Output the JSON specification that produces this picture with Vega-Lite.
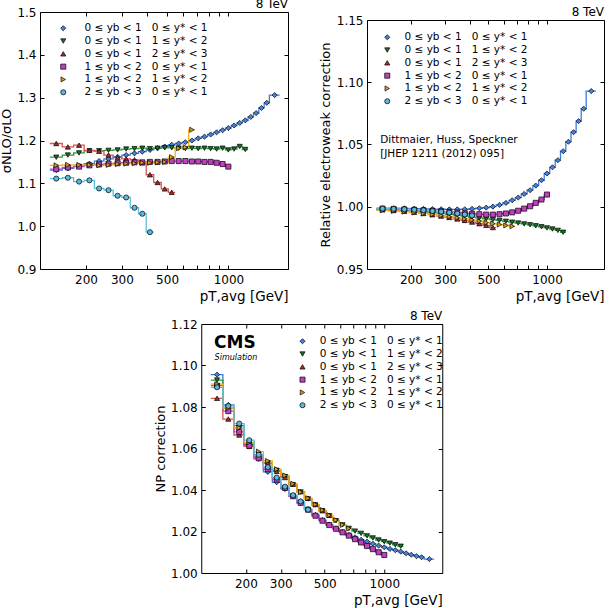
{
"$schema":"https://vega.github.io/schema/vega-lite/v6.json",
"padding":{"left":0,"top":-3,"right":4,"bottom":0},
"config":{
 "font":"DejaVu Sans",
 "view":{"stroke":"black","strokeWidth":1},
 "axis":{"domain":false,"grid":false,"ticks":true,"tickColor":"black","tickSize":-4,"tickWidth":1,"labelPadding":8,"labelFont":"DejaVu Sans","labelFontSize":12,"labelColor":"black","labelFlush":false,"labelOverlap":false,"titleFont":"DejaVu Sans","titleFontSize":13,"titleFontWeight":"normal","titleColor":"black"},
 "axisBottom":{"labelPadding":9},
 "axisTop":{"minExtent":0,"maxExtent":0,"labelPadding":0},
 "axisRight":{"minExtent":0,"maxExtent":0,"labelPadding":0},
 "text":{"font":"DejaVu Sans","color":"black"},
 "legend":{"labelFont":"DejaVu Sans","labelFontSize":10.5,"labelColor":"black","symbolStrokeColor":"black","symbolStrokeWidth":0.7,"rowPadding":1.8,"symbolSize":26,"padding":0}
},
"datasets":{
"bins":[{"b":1,"lo":133,"hi":153,"x":143},{"b":2,"lo":153,"hi":174,"x":163},{"b":3,"lo":174,"hi":196,"x":185},{"b":4,"lo":196,"hi":220,"x":208},{"b":5,"lo":220,"hi":245,"x":232},{"b":6,"lo":245,"hi":272,"x":258},{"b":7,"lo":272,"hi":300,"x":286},{"b":8,"lo":300,"hi":330,"x":315},{"b":9,"lo":330,"hi":362,"x":346},{"b":10,"lo":362,"hi":395,"x":378},{"b":11,"lo":395,"hi":430,"x":412},{"b":12,"lo":430,"hi":468,"x":449},{"b":13,"lo":468,"hi":507,"x":487},{"b":14,"lo":507,"hi":548,"x":527},{"b":15,"lo":548,"hi":592,"x":570},{"b":16,"lo":592,"hi":638,"x":615},{"b":17,"lo":638,"hi":686,"x":662},{"b":18,"lo":686,"hi":737,"x":711},{"b":19,"lo":737,"hi":790,"x":763},{"b":20,"lo":790,"hi":846,"x":818},{"b":21,"lo":846,"hi":905,"x":875},{"b":22,"lo":905,"hi":967,"x":936},{"b":23,"lo":967,"hi":1032,"x":999},{"b":24,"lo":1032,"hi":1101,"x":1066},{"b":25,"lo":1101,"hi":1172,"x":1136},{"b":26,"lo":1172,"hi":1248,"x":1210},{"b":27,"lo":1248,"hi":1327,"x":1287},{"b":28,"lo":1327,"hi":1410,"x":1368},{"b":29,"lo":1410,"hi":1497,"x":1453},{"b":30,"lo":1497,"hi":1588,"x":1542},{"b":31,"lo":1588,"hi":1784,"x":1686}],
"nlo":[
{"s":"a","b":1,"y":1.131},{"s":"a","b":2,"y":1.135},{"s":"a","b":3,"y":1.140},{"s":"a","b":4,"y":1.146},{"s":"a","b":5,"y":1.152},{"s":"a","b":6,"y":1.157},{"s":"a","b":7,"y":1.162},{"s":"a","b":8,"y":1.166},{"s":"a","b":9,"y":1.170},{"s":"a","b":10,"y":1.174},{"s":"a","b":11,"y":1.178},{"s":"a","b":12,"y":1.182},{"s":"a","b":13,"y":1.186},{"s":"a","b":14,"y":1.190},{"s":"a","b":15,"y":1.193},{"s":"a","b":16,"y":1.196},{"s":"a","b":17,"y":1.200},{"s":"a","b":18,"y":1.205},{"s":"a","b":19,"y":1.209},{"s":"a","b":20,"y":1.214},{"s":"a","b":21,"y":1.219},{"s":"a","b":22,"y":1.224},{"s":"a","b":23,"y":1.229},{"s":"a","b":24,"y":1.235},{"s":"a","b":25,"y":1.241},{"s":"a","b":26,"y":1.247},{"s":"a","b":27,"y":1.255},{"s":"a","b":28,"y":1.264},{"s":"a","b":29,"y":1.276},{"s":"a","b":30,"y":1.288},{"s":"a","b":31,"y":1.306},
{"s":"b","b":1,"y":1.161},{"s":"b","b":2,"y":1.166},{"s":"b","b":3,"y":1.171},{"s":"b","b":4,"y":1.176},{"s":"b","b":5,"y":1.176},{"s":"b","b":6,"y":1.177},{"s":"b","b":7,"y":1.178},{"s":"b","b":8,"y":1.180},{"s":"b","b":9,"y":1.181},{"s":"b","b":10,"y":1.182},{"s":"b","b":11,"y":1.181},{"s":"b","b":12,"y":1.182},{"s":"b","b":13,"y":1.183},{"s":"b","b":14,"y":1.183},{"s":"b","b":15,"y":1.182},{"s":"b","b":16,"y":1.181},{"s":"b","b":17,"y":1.182},{"s":"b","b":18,"y":1.181},{"s":"b","b":19,"y":1.182},{"s":"b","b":20,"y":1.181},{"s":"b","b":21,"y":1.180},{"s":"b","b":22,"y":1.182},{"s":"b","b":23,"y":1.178},{"s":"b","b":24,"y":1.180},{"s":"b","b":25,"y":1.186},{"s":"b","b":26,"y":1.179},
{"s":"c","b":1,"y":1.193},{"s":"c","b":2,"y":1.185},{"s":"c","b":3,"y":1.189},{"s":"c","b":4,"y":1.177},{"s":"c","b":5,"y":1.175},{"s":"c","b":6,"y":1.166},{"s":"c","b":7,"y":1.160},{"s":"c","b":8,"y":1.157},{"s":"c","b":9,"y":1.155},{"s":"c","b":10,"y":1.148},{"s":"c","b":11,"y":1.120},{"s":"c","b":12,"y":1.102},{"s":"c","b":13,"y":1.087},{"s":"c","b":14,"y":1.079},
{"s":"d","b":1,"y":1.133},{"s":"d","b":2,"y":1.137},{"s":"d","b":3,"y":1.139},{"s":"d","b":4,"y":1.142},{"s":"d","b":5,"y":1.144},{"s":"d","b":6,"y":1.146},{"s":"d","b":7,"y":1.147},{"s":"d","b":8,"y":1.148},{"s":"d","b":9,"y":1.149},{"s":"d","b":10,"y":1.149},{"s":"d","b":11,"y":1.150},{"s":"d","b":12,"y":1.150},{"s":"d","b":13,"y":1.151},{"s":"d","b":14,"y":1.152},{"s":"d","b":15,"y":1.152},{"s":"d","b":16,"y":1.152},{"s":"d","b":17,"y":1.151},{"s":"d","b":18,"y":1.151},{"s":"d","b":19,"y":1.150},{"s":"d","b":20,"y":1.150},{"s":"d","b":21,"y":1.148},{"s":"d","b":22,"y":1.145},{"s":"d","b":23,"y":1.139},
{"s":"e","b":1,"y":1.142},{"s":"e","b":2,"y":1.143},{"s":"e","b":3,"y":1.143},{"s":"e","b":4,"y":1.143},{"s":"e","b":5,"y":1.142},{"s":"e","b":6,"y":1.143},{"s":"e","b":7,"y":1.145},{"s":"e","b":8,"y":1.146},{"s":"e","b":9,"y":1.147},{"s":"e","b":10,"y":1.148},{"s":"e","b":11,"y":1.148},{"s":"e","b":12,"y":1.149},{"s":"e","b":13,"y":1.150},{"s":"e","b":14,"y":1.161},{"s":"e","b":15,"y":1.182},{"s":"e","b":16,"y":1.184},{"s":"e","b":17,"y":1.225},
{"s":"f","b":1,"y":1.111},{"s":"f","b":2,"y":1.113},{"s":"f","b":3,"y":1.104},{"s":"f","b":4,"y":1.107},{"s":"f","b":5,"y":1.088},{"s":"f","b":6,"y":1.084},{"s":"f","b":7,"y":1.071},{"s":"f","b":8,"y":1.067},{"s":"f","b":9,"y":1.043},{"s":"f","b":10,"y":1.029},{"s":"f","b":11,"y":0.986}
],
"ew":[
{"s":"a","b":1,"y":0.9988},{"s":"a","b":2,"y":0.9988},{"s":"a","b":3,"y":0.9987},{"s":"a","b":4,"y":0.9985},{"s":"a","b":5,"y":0.9983},{"s":"a","b":6,"y":0.9981},{"s":"a","b":7,"y":0.998},{"s":"a","b":8,"y":0.9979},{"s":"a","b":9,"y":0.9979},{"s":"a","b":10,"y":0.998},{"s":"a","b":11,"y":0.9983},{"s":"a","b":12,"y":0.9988},{"s":"a","b":13,"y":0.9993},{"s":"a","b":14,"y":1.0001},{"s":"a","b":15,"y":1.0015},{"s":"a","b":16,"y":1.0031},{"s":"a","b":17,"y":1.0052},{"s":"a","b":18,"y":1.0074},{"s":"a","b":19,"y":1.0103},{"s":"a","b":20,"y":1.0133},{"s":"a","b":21,"y":1.017},{"s":"a","b":22,"y":1.0213},{"s":"a","b":23,"y":1.0267},{"s":"a","b":24,"y":1.0317},{"s":"a","b":25,"y":1.0374},{"s":"a","b":26,"y":1.0446},{"s":"a","b":27,"y":1.0522},{"s":"a","b":28,"y":1.0599},{"s":"a","b":29,"y":1.0688},{"s":"a","b":30,"y":1.0787},{"s":"a","b":31,"y":1.0929},
{"s":"b","b":1,"y":0.998},{"s":"b","b":2,"y":0.9977},{"s":"b","b":3,"y":0.9973},{"s":"b","b":4,"y":0.9968},{"s":"b","b":5,"y":0.9962},{"s":"b","b":6,"y":0.9955},{"s":"b","b":7,"y":0.9948},{"s":"b","b":8,"y":0.994},{"s":"b","b":9,"y":0.9932},{"s":"b","b":10,"y":0.9925},{"s":"b","b":11,"y":0.9917},{"s":"b","b":12,"y":0.991},{"s":"b","b":13,"y":0.9903},{"s":"b","b":14,"y":0.9896},{"s":"b","b":15,"y":0.989},{"s":"b","b":16,"y":0.9883},{"s":"b","b":17,"y":0.9876},{"s":"b","b":18,"y":0.9869},{"s":"b","b":19,"y":0.9862},{"s":"b","b":20,"y":0.9855},{"s":"b","b":21,"y":0.9847},{"s":"b","b":22,"y":0.9839},{"s":"b","b":23,"y":0.983},{"s":"b","b":24,"y":0.9821},{"s":"b","b":25,"y":0.981},{"s":"b","b":26,"y":0.9795},
{"s":"c","b":1,"y":0.9975},{"s":"c","b":2,"y":0.997},{"s":"c","b":3,"y":0.9963},{"s":"c","b":4,"y":0.9955},{"s":"c","b":5,"y":0.9946},{"s":"c","b":6,"y":0.9936},{"s":"c","b":7,"y":0.9925},{"s":"c","b":8,"y":0.9914},{"s":"c","b":9,"y":0.9902},{"s":"c","b":10,"y":0.989},{"s":"c","b":11,"y":0.9877},{"s":"c","b":12,"y":0.9864},{"s":"c","b":13,"y":0.9851},{"s":"c","b":14,"y":0.9833},
{"s":"d","b":1,"y":0.9985},{"s":"d","b":2,"y":0.9982},{"s":"d","b":3,"y":0.9978},{"s":"d","b":4,"y":0.9975},{"s":"d","b":5,"y":0.9971},{"s":"d","b":6,"y":0.9967},{"s":"d","b":7,"y":0.9963},{"s":"d","b":8,"y":0.9958},{"s":"d","b":9,"y":0.9953},{"s":"d","b":10,"y":0.9948},{"s":"d","b":11,"y":0.9944},{"s":"d","b":12,"y":0.994},{"s":"d","b":13,"y":0.9937},{"s":"d","b":14,"y":0.9937},{"s":"d","b":15,"y":0.994},{"s":"d","b":16,"y":0.9946},{"s":"d","b":17,"y":0.9955},{"s":"d","b":18,"y":0.9968},{"s":"d","b":19,"y":0.9985},{"s":"d","b":20,"y":1.0004},{"s":"d","b":21,"y":1.0031},{"s":"d","b":22,"y":1.0058},{"s":"d","b":23,"y":1.0098},
{"s":"e","b":1,"y":0.9972},{"s":"e","b":2,"y":0.9967},{"s":"e","b":3,"y":0.9961},{"s":"e","b":4,"y":0.9954},{"s":"e","b":5,"y":0.9946},{"s":"e","b":6,"y":0.9938},{"s":"e","b":7,"y":0.9929},{"s":"e","b":8,"y":0.992},{"s":"e","b":9,"y":0.9911},{"s":"e","b":10,"y":0.9902},{"s":"e","b":11,"y":0.9893},{"s":"e","b":12,"y":0.9884},{"s":"e","b":13,"y":0.9872},{"s":"e","b":14,"y":0.9864},{"s":"e","b":15,"y":0.9857},{"s":"e","b":16,"y":0.985},{"s":"e","b":17,"y":0.9843},
{"s":"f","b":1,"y":0.9985},{"s":"f","b":2,"y":0.9983},{"s":"f","b":3,"y":0.998},{"s":"f","b":4,"y":0.9976},{"s":"f","b":5,"y":0.9972},{"s":"f","b":6,"y":0.9966},{"s":"f","b":7,"y":0.996},{"s":"f","b":8,"y":0.9953},{"s":"f","b":9,"y":0.9946},{"s":"f","b":10,"y":0.9938},{"s":"f","b":11,"y":0.993}
],
"np":[
{"s":"a","b":1,"y":1.0956},{"s":"a","b":2,"y":1.081},{"s":"a","b":3,"y":1.071},{"s":"a","b":4,"y":1.062},{"s":"a","b":5,"y":1.055},{"s":"a","b":6,"y":1.0487},{"s":"a","b":7,"y":1.0437},{"s":"a","b":8,"y":1.0405},{"s":"a","b":9,"y":1.037},{"s":"a","b":10,"y":1.0338},{"s":"a","b":11,"y":1.0308},{"s":"a","b":12,"y":1.028},{"s":"a","b":13,"y":1.0255},{"s":"a","b":14,"y":1.0234},{"s":"a","b":15,"y":1.0215},{"s":"a","b":16,"y":1.0199},{"s":"a","b":17,"y":1.0184},{"s":"a","b":18,"y":1.0172},{"s":"a","b":19,"y":1.016},{"s":"a","b":20,"y":1.0151},{"s":"a","b":21,"y":1.0141},{"s":"a","b":22,"y":1.0132},{"s":"a","b":23,"y":1.0124},{"s":"a","b":24,"y":1.0116},{"s":"a","b":25,"y":1.011},{"s":"a","b":26,"y":1.0103},{"s":"a","b":27,"y":1.0095},{"s":"a","b":28,"y":1.0088},{"s":"a","b":29,"y":1.0081},{"s":"a","b":30,"y":1.0076},{"s":"a","b":31,"y":1.0067},
{"s":"b","b":1,"y":1.093},{"s":"b","b":2,"y":1.0795},{"s":"b","b":3,"y":1.070},{"s":"b","b":4,"y":1.062},{"s":"b","b":5,"y":1.057},{"s":"b","b":6,"y":1.053},{"s":"b","b":7,"y":1.0495},{"s":"b","b":8,"y":1.0465},{"s":"b","b":9,"y":1.0425},{"s":"b","b":10,"y":1.039},{"s":"b","b":11,"y":1.0357},{"s":"b","b":12,"y":1.0328},{"s":"b","b":13,"y":1.030},{"s":"b","b":14,"y":1.0276},{"s":"b","b":15,"y":1.0252},{"s":"b","b":16,"y":1.0232},{"s":"b","b":17,"y":1.0215},{"s":"b","b":18,"y":1.0202},{"s":"b","b":19,"y":1.0191},{"s":"b","b":20,"y":1.0179},{"s":"b","b":21,"y":1.0169},{"s":"b","b":22,"y":1.0159},{"s":"b","b":23,"y":1.0151},{"s":"b","b":24,"y":1.0144},{"s":"b","b":25,"y":1.0136},{"s":"b","b":26,"y":1.0129},
{"s":"c","b":1,"y":1.0842},{"s":"c","b":2,"y":1.0742},{"s":"c","b":3,"y":1.0665},{"s":"c","b":4,"y":1.061},{"s":"c","b":5,"y":1.056},{"s":"c","b":6,"y":1.053},{"s":"c","b":7,"y":1.049},{"s":"c","b":8,"y":1.046},{"s":"c","b":9,"y":1.0428},{"s":"c","b":10,"y":1.0392},{"s":"c","b":11,"y":1.036},{"s":"c","b":12,"y":1.033},{"s":"c","b":13,"y":1.030},{"s":"c","b":14,"y":1.0278},
{"s":"d","b":1,"y":1.0903},{"s":"d","b":2,"y":1.078},{"s":"d","b":3,"y":1.068},{"s":"d","b":4,"y":1.0614},{"s":"d","b":5,"y":1.0553},{"s":"d","b":6,"y":1.050},{"s":"d","b":7,"y":1.045},{"s":"d","b":8,"y":1.041},{"s":"d","b":9,"y":1.037},{"s":"d","b":10,"y":1.0338},{"s":"d","b":11,"y":1.0305},{"s":"d","b":12,"y":1.0276},{"s":"d","b":13,"y":1.0252},{"s":"d","b":14,"y":1.0231},{"s":"d","b":15,"y":1.0213},{"s":"d","b":16,"y":1.0196},{"s":"d","b":17,"y":1.018},{"s":"d","b":18,"y":1.0163},{"s":"d","b":19,"y":1.0147},{"s":"d","b":20,"y":1.013},{"s":"d","b":21,"y":1.0115},{"s":"d","b":22,"y":1.010},{"s":"d","b":23,"y":1.0087},
{"s":"e","b":1,"y":1.091},{"s":"e","b":2,"y":1.0795},{"s":"e","b":3,"y":1.070},{"s":"e","b":4,"y":1.063},{"s":"e","b":5,"y":1.0585},{"s":"e","b":6,"y":1.054},{"s":"e","b":7,"y":1.050},{"s":"e","b":8,"y":1.047},{"s":"e","b":9,"y":1.043},{"s":"e","b":10,"y":1.039},{"s":"e","b":11,"y":1.036},{"s":"e","b":12,"y":1.033},{"s":"e","b":13,"y":1.0303},{"s":"e","b":14,"y":1.0278},{"s":"e","b":15,"y":1.0255},{"s":"e","b":16,"y":1.0232},{"s":"e","b":17,"y":1.0215},
{"s":"f","b":1,"y":1.0895},{"s":"f","b":2,"y":1.0805},{"s":"f","b":3,"y":1.072},{"s":"f","b":4,"y":1.064},{"s":"f","b":5,"y":1.057},{"s":"f","b":6,"y":1.051},{"s":"f","b":7,"y":1.046},{"s":"f","b":8,"y":1.0416},{"s":"f","b":9,"y":1.0375},{"s":"f","b":10,"y":1.0345},{"s":"f","b":11,"y":1.0305}
]
},
"vconcat":[
{"hconcat":[
{
 "width":248,"height":257,
 "data":{"name":"nlo"},
 "layer":[
  {
   "transform":[{"lookup":"b","from":{"data":{"name":"bins"},"key":"b","fields":["lo","hi","x"]}},{"fold":["lo","hi"],"as":["edge","xe"]}],
   "mark":{"type":"line","strokeWidth":1.3},
   "encoding":{
    "x":{"field":"xe","type":"quantitative","scale":{"type":"log","domain":[119,1960],"nice":false},"axis":{"orient":"top","labels":false,"title":null,"values":[200,300,400,500,600,700,800,900,1000]}},
    "y":{"field":"y","type":"quantitative","scale":{"domain":[0.9,1.5],"nice":false,"zero":false},"axis":{"orient":"right","labels":false,"title":null,"values":[0.9,1.0,1.1,1.2,1.3,1.4,1.5]}},
    "stroke":{"field":"s","type":"nominal","scale":{"domain":["f","e","d","c","b","a"],"range":["#5bc0de","#f2b01e","#c449c4","#d9534f","#2b9a3a","#3b7ddd"]},"legend":null},
    "order":[{"field":"xe","type":"quantitative"},{"field":"edge","type":"nominal"}]
   }
  },
  {
   "transform":[{"lookup":"b","from":{"data":{"name":"bins"},"key":"b","fields":["lo","hi","x"]}}],
   "mark":{"type":"point","filled":true,"stroke":"black","strokeWidth":0.7,"size":26,"opacity":1},
   "encoding":{
    "x":{"field":"x","type":"quantitative","scale":{"type":"log","domain":[119,1960],"nice":false},"axis":{"orient":"bottom","values":[200,300,400,500,600,700,800,900,1000],"labelExpr":"(datum.value==200||datum.value==300||datum.value==500||datum.value==1000)?''+datum.value:''","title":"pT,avg [GeV]","titleAnchor":"end","titleFontSize":13.5,"titlePadding":4.5}},
    "y":{"field":"y","type":"quantitative","scale":{"domain":[0.9,1.5],"nice":false,"zero":false},"axis":{"orient":"left","values":[0.9,1.0,1.1,1.2,1.3,1.4,1.5],"format":".1f","title":"σNLO/σLO","titlePadding":3}},
    "color":{"field":"s","type":"nominal","scale":{"domain":["a","b","c","d","e","f"],"range":["#4a80d8","#1f6e2a","#a03030","#c040c0","#d8a020","#5ab9dc"]},"legend":{"orient":"none","legendX":18,"legendY":11,"title":null,"labelOffset":16,"labelExpr":"datum.label=='a'?'0 ≤ yb < 1\u00a0\u00a0\u00a00 ≤ y* < 1':datum.label=='b'?'0 ≤ yb < 1\u00a0\u00a0\u00a01 ≤ y* < 2':datum.label=='c'?'0 ≤ yb < 1\u00a0\u00a0\u00a02 ≤ y* < 3':datum.label=='d'?'1 ≤ yb < 2\u00a0\u00a0\u00a00 ≤ y* < 1':datum.label=='e'?'1 ≤ yb < 2\u00a0\u00a0\u00a01 ≤ y* < 2':'2 ≤ yb < 3\u00a0\u00a0\u00a00 ≤ y* < 1'"}},
    "shape":{"field":"s","type":"nominal","scale":{"domain":["a","b","c","d","e","f"],"range":["diamond","triangle-down","triangle-up","square","triangle-right","circle"]},"legend":{"orient":"none","legendX":18,"legendY":11,"title":null,"labelOffset":16,"labelExpr":"datum.label=='a'?'0 ≤ yb < 1\u00a0\u00a0\u00a00 ≤ y* < 1':datum.label=='b'?'0 ≤ yb < 1\u00a0\u00a0\u00a01 ≤ y* < 2':datum.label=='c'?'0 ≤ yb < 1\u00a0\u00a0\u00a02 ≤ y* < 3':datum.label=='d'?'1 ≤ yb < 2\u00a0\u00a0\u00a00 ≤ y* < 1':datum.label=='e'?'1 ≤ yb < 2\u00a0\u00a0\u00a01 ≤ y* < 2':'2 ≤ yb < 3\u00a0\u00a0\u00a00 ≤ y* < 1'"}}
   }
  },
  {
   "data":{"values":[{"x":1960,"y":1.5,"t":"8 TeV"}]},
   "mark":{"type":"text","align":"right","baseline":"bottom","dy":-1,"fontSize":12},
   "encoding":{
    "x":{"field":"x","type":"quantitative","scale":{"type":"log","domain":[119,1960],"nice":false},"axis":null},
    "y":{"field":"y","type":"quantitative","scale":{"domain":[0.9,1.5],"nice":false,"zero":false},"axis":null},
    "text":{"field":"t"}
   }
  }
 ],
 "resolve":{"axis":{"x":"independent","y":"independent"}}
},
{"vconcat":[
{
 "width":237,"height":1,
 "view":{"stroke":null},
 "data":{"values":[]},
 "mark":{"type":"point","opacity":0},
 "encoding":{}
},
{
 "width":237,"height":249,
 "data":{"name":"ew"},
 "layer":[
  {
   "transform":[{"lookup":"b","from":{"data":{"name":"bins"},"key":"b","fields":["lo","hi","x"]}},{"fold":["lo","hi"],"as":["edge","xe"]}],
   "mark":{"type":"line","strokeWidth":1.3},
   "encoding":{
    "x":{"field":"xe","type":"quantitative","scale":{"type":"log","domain":[119,1960],"nice":false},"axis":{"orient":"top","labels":false,"title":null,"values":[200,300,400,500,600,700,800,900,1000]}},
    "y":{"field":"y","type":"quantitative","scale":{"domain":[0.95,1.15],"nice":false,"zero":false},"axis":{"orient":"right","labels":false,"title":null,"values":[0.95,1.0,1.05,1.1,1.15]}},
    "stroke":{"field":"s","type":"nominal","scale":{"domain":["f","e","d","c","b","a"],"range":["#5bc0de","#f2b01e","#c449c4","#d9534f","#2b9a3a","#3b7ddd"]},"legend":null},
    "order":[{"field":"xe","type":"quantitative"},{"field":"edge","type":"nominal"}]
   }
  },
  {
   "transform":[{"lookup":"b","from":{"data":{"name":"bins"},"key":"b","fields":["lo","hi","x"]}}],
   "mark":{"type":"point","filled":true,"stroke":"black","strokeWidth":0.7,"size":26,"opacity":1},
   "encoding":{
    "x":{"field":"x","type":"quantitative","scale":{"type":"log","domain":[119,1960],"nice":false},"axis":{"orient":"bottom","values":[200,300,400,500,600,700,800,900,1000],"labelExpr":"(datum.value==200||datum.value==300||datum.value==500||datum.value==1000)?''+datum.value:''","title":"pT,avg [GeV]","titleAnchor":"end","titleFontSize":13.5,"titlePadding":4.5}},
    "y":{"field":"y","type":"quantitative","scale":{"domain":[0.95,1.15],"nice":false,"zero":false},"axis":{"orient":"left","values":[0.95,1.0,1.05,1.1,1.15],"format":".2f","title":"Relative electroweak correction","titlePadding":4}},
    "color":{"field":"s","type":"nominal","scale":{"domain":["a","b","c","d","e","f"],"range":["#4a80d8","#1f6e2a","#a03030","#c040c0","#d8a020","#5ab9dc"]},"legend":{"orient":"none","legendX":15,"legendY":20,"title":null,"labelOffset":12,"labelExpr":"datum.label=='a'?'0 ≤ yb < 1\u00a0\u00a0\u00a00 ≤ y* < 1':datum.label=='b'?'0 ≤ yb < 1\u00a0\u00a0\u00a01 ≤ y* < 2':datum.label=='c'?'0 ≤ yb < 1\u00a0\u00a0\u00a02 ≤ y* < 3':datum.label=='d'?'1 ≤ yb < 2\u00a0\u00a0\u00a00 ≤ y* < 1':datum.label=='e'?'1 ≤ yb < 2\u00a0\u00a0\u00a01 ≤ y* < 2':'2 ≤ yb < 3\u00a0\u00a0\u00a00 ≤ y* < 1'"}},
    "shape":{"field":"s","type":"nominal","scale":{"domain":["a","b","c","d","e","f"],"range":["diamond","triangle-down","triangle-up","square","triangle-right","circle"]},"legend":{"orient":"none","legendX":15,"legendY":20,"title":null,"labelOffset":12,"labelExpr":"datum.label=='a'?'0 ≤ yb < 1\u00a0\u00a0\u00a00 ≤ y* < 1':datum.label=='b'?'0 ≤ yb < 1\u00a0\u00a0\u00a01 ≤ y* < 2':datum.label=='c'?'0 ≤ yb < 1\u00a0\u00a0\u00a02 ≤ y* < 3':datum.label=='d'?'1 ≤ yb < 2\u00a0\u00a0\u00a00 ≤ y* < 1':datum.label=='e'?'1 ≤ yb < 2\u00a0\u00a0\u00a01 ≤ y* < 2':'2 ≤ yb < 3\u00a0\u00a0\u00a00 ≤ y* < 1'"}}
   }
  },
  {
   "data":{"values":[{"x":1960,"y":1.15,"t":"8 TeV"}]},
   "mark":{"type":"text","align":"right","baseline":"bottom","dy":-1,"fontSize":12},
   "encoding":{
    "x":{"field":"x","type":"quantitative","scale":{"type":"log","domain":[119,1960],"nice":false},"axis":null},
    "y":{"field":"y","type":"quantitative","scale":{"domain":[0.95,1.15],"nice":false,"zero":false},"axis":null},
    "text":{"field":"t"}
   }
  },
  {
   "data":{"values":[{"x":139,"y":1.054,"t":"Dittmaier, Huss, Speckner"},{"x":139,"y":1.042,"t":"[JHEP 1211 (2012) 095]"}]},
   "mark":{"type":"text","align":"left","baseline":"middle","fontSize":10.5},
   "encoding":{
    "x":{"field":"x","type":"quantitative","scale":{"type":"log","domain":[119,1960],"nice":false},"axis":null},
    "y":{"field":"y","type":"quantitative","scale":{"domain":[0.95,1.15],"nice":false,"zero":false},"axis":null},
    "text":{"field":"t"}
   }
  }
 ],
 "resolve":{"axis":{"x":"independent","y":"independent"}}
}
],"spacing":-8}
],"spacing":29,"resolve":{"scale":{"color":"independent","shape":"independent","stroke":"independent"},"legend":{"color":"independent","shape":"independent"}}},
{
 "width":241,"height":249,
 "data":{"name":"np"},
 "layer":[
  {
   "transform":[{"lookup":"b","from":{"data":{"name":"bins"},"key":"b","fields":["lo","hi","x"]}},{"fold":["lo","hi"],"as":["edge","xe"]}],
   "mark":{"type":"line","strokeWidth":1.3},
   "encoding":{
    "x":{"field":"xe","type":"quantitative","scale":{"type":"log","domain":[119,1960],"nice":false},"axis":{"orient":"top","labels":false,"title":null,"values":[200,300,400,500,600,700,800,900,1000]}},
    "y":{"field":"y","type":"quantitative","scale":{"domain":[1.0,1.12],"nice":false,"zero":false},"axis":{"orient":"right","labels":false,"title":null,"values":[1.0,1.02,1.04,1.06,1.08,1.1,1.12]}},
    "stroke":{"field":"s","type":"nominal","scale":{"domain":["f","e","d","c","b","a"],"range":["#5bc0de","#f2b01e","#c449c4","#d9534f","#2b9a3a","#3b7ddd"]},"legend":null},
    "order":[{"field":"xe","type":"quantitative"},{"field":"edge","type":"nominal"}]
   }
  },
  {
   "transform":[{"lookup":"b","from":{"data":{"name":"bins"},"key":"b","fields":["lo","hi","x"]}}],
   "mark":{"type":"point","filled":true,"stroke":"black","strokeWidth":0.7,"size":26,"opacity":1},
   "encoding":{
    "x":{"field":"x","type":"quantitative","scale":{"type":"log","domain":[119,1960],"nice":false},"axis":{"orient":"bottom","values":[200,300,400,500,600,700,800,900,1000],"labelExpr":"(datum.value==200||datum.value==300||datum.value==500||datum.value==1000)?''+datum.value:''","title":"pT,avg [GeV]","titleAnchor":"end","titleFontSize":13.5,"titlePadding":4.5}},
    "y":{"field":"y","type":"quantitative","scale":{"domain":[1.0,1.12],"nice":false,"zero":false},"axis":{"orient":"left","values":[1.0,1.02,1.04,1.06,1.08,1.1,1.12],"format":".2f","title":"NP correction","titlePadding":3}},
    "color":{"field":"s","type":"nominal","scale":{"domain":["a","b","c","d","e","f"],"range":["#4a80d8","#1f6e2a","#a03030","#c040c0","#d8a020","#5ab9dc"]},"legend":{"orient":"none","legendX":96,"legendY":12,"title":null,"labelOffset":12,"labelExpr":"datum.label=='a'?'0 ≤ yb < 1\u00a0\u00a0\u00a00 ≤ y* < 1':datum.label=='b'?'0 ≤ yb < 1\u00a0\u00a0\u00a01 ≤ y* < 2':datum.label=='c'?'0 ≤ yb < 1\u00a0\u00a0\u00a02 ≤ y* < 3':datum.label=='d'?'1 ≤ yb < 2\u00a0\u00a0\u00a00 ≤ y* < 1':datum.label=='e'?'1 ≤ yb < 2\u00a0\u00a0\u00a01 ≤ y* < 2':'2 ≤ yb < 3\u00a0\u00a0\u00a00 ≤ y* < 1'"}},
    "shape":{"field":"s","type":"nominal","scale":{"domain":["a","b","c","d","e","f"],"range":["diamond","triangle-down","triangle-up","square","triangle-right","circle"]},"legend":{"orient":"none","legendX":96,"legendY":12,"title":null,"labelOffset":12,"labelExpr":"datum.label=='a'?'0 ≤ yb < 1\u00a0\u00a0\u00a00 ≤ y* < 1':datum.label=='b'?'0 ≤ yb < 1\u00a0\u00a0\u00a01 ≤ y* < 2':datum.label=='c'?'0 ≤ yb < 1\u00a0\u00a0\u00a02 ≤ y* < 3':datum.label=='d'?'1 ≤ yb < 2\u00a0\u00a0\u00a00 ≤ y* < 1':datum.label=='e'?'1 ≤ yb < 2\u00a0\u00a0\u00a01 ≤ y* < 2':'2 ≤ yb < 3\u00a0\u00a0\u00a00 ≤ y* < 1'"}}
   }
  },
  {
   "data":{"values":[{"x":1960,"y":1.12,"t":"8 TeV"}]},
   "mark":{"type":"text","align":"right","baseline":"bottom","dy":-1,"fontSize":12},
   "encoding":{
    "x":{"field":"x","type":"quantitative","scale":{"type":"log","domain":[119,1960],"nice":false},"axis":null},
    "y":{"field":"y","type":"quantitative","scale":{"domain":[1.0,1.12],"nice":false,"zero":false},"axis":null},
    "text":{"field":"t"}
   }
  },
  {
   "data":{"values":[{"x":138,"y":1.1108,"t":"CMS"}]},
   "mark":{"type":"text","align":"left","baseline":"middle","fontSize":17,"fontWeight":"bold"},
   "encoding":{
    "x":{"field":"x","type":"quantitative","scale":{"type":"log","domain":[119,1960],"nice":false},"axis":null},
    "y":{"field":"y","type":"quantitative","scale":{"domain":[1.0,1.12],"nice":false,"zero":false},"axis":null},
    "text":{"field":"t"}
   }
  },
  {
   "data":{"values":[{"x":139,"y":1.1036,"t":"Simulation"}]},
   "mark":{"type":"text","align":"left","baseline":"middle","fontSize":8,"fontStyle":"italic"},
   "encoding":{
    "x":{"field":"x","type":"quantitative","scale":{"type":"log","domain":[119,1960],"nice":false},"axis":null},
    "y":{"field":"y","type":"quantitative","scale":{"domain":[1.0,1.12],"nice":false,"zero":false},"axis":null},
    "text":{"field":"t"}
   }
  }
 ],
 "resolve":{"axis":{"x":"independent","y":"independent"}}
}
],
"spacing":5,
"center":true,
"resolve":{"scale":{"color":"independent","shape":"independent","stroke":"independent"},"legend":{"color":"independent","shape":"independent"}}
}
